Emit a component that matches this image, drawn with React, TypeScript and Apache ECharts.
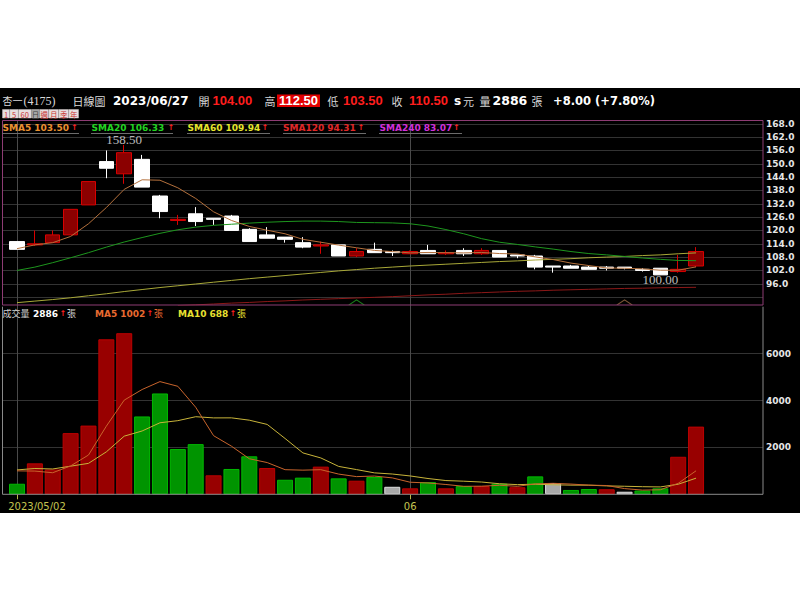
import React, { useEffect, useRef } from "react";
import * as echarts from "echarts";

// ---------------- data ----------------
const dates = [
  "2023/05/02", "2023/05/03", "2023/05/04", "2023/05/05", "2023/05/08", "2023/05/09", "2023/05/10",
  "2023/05/11", "2023/05/12", "2023/05/15", "2023/05/16", "2023/05/17", "2023/05/18", "2023/05/19",
  "2023/05/22", "2023/05/23", "2023/05/24", "2023/05/25", "2023/05/26", "2023/05/29", "2023/05/30",
  "2023/05/31", "2023/06/01", "2023/06/02", "2023/06/05", "2023/06/06", "2023/06/07", "2023/06/08",
  "2023/06/09", "2023/06/12", "2023/06/13", "2023/06/14", "2023/06/15", "2023/06/16", "2023/06/19",
  "2023/06/20", "2023/06/21", "2023/06/26", "2023/06/27",
];
const opens = [115, 113.5, 114.5, 118, 131.5, 151, 145.5, 152, 135.5, 124.5, 127.5, 125.5, 126.5, 120.5, 118, 117, 114.5, 113, 113.5, 108.5, 111.5, 110.5, 109.5, 111, 109.5, 111, 109.5, 111, 109, 108.5, 104, 104, 103.5, 103.5, 103.5, 102.5, 103, 101.5, 104];
const closes = [111.5, 114, 118, 129.5, 142, 148, 155, 139.5, 128.5, 125, 124, 125, 120, 115, 116.5, 116, 112.5, 113.5, 108.5, 110.5, 110, 110, 110.5, 109.5, 110, 109.5, 111, 108, 108.5, 103.5, 103.5, 103, 102.5, 103, 103, 102, 100, 102.5, 110.5];
const lows = [111.5, 113, 114.5, 118, 131.5, 143.5, 141, 139.5, 125.5, 122.5, 122, 122.5, 120, 115, 116.5, 114.5, 112, 109.5, 108.5, 108, 110, 108.5, 109.5, 109.5, 109, 108.5, 109, 108, 107.5, 102.5, 101, 103, 102.5, 102, 102.5, 101.5, 100, 101, 103.5];
const highs = [115, 120, 120, 129.5, 142, 156, 158.5, 154, 136, 127, 130.5, 125.5, 127, 121, 121.5, 117, 117, 115, 113.5, 112, 114.5, 111, 111, 113.5, 111, 112, 112, 111, 109, 109, 104, 104.5, 104, 104, 103.5, 103, 103, 109, 112.5];
const volumes = [450, 1320, 1060, 2610, 2930, 6610, 6870, 3320, 4300, 1930, 2140, 810, 1080, 1620, 1120, 620, 710, 1180, 680, 580, 740, 320, 255, 520, 255, 350, 350, 450, 300, 765, 480, 185, 225, 215, 110, 160, 254, 1600, 2886];
const sma5 = [111.8, 113.5, 114.5, 117.3, 123.0, 130.3, 138.5, 142.8, 142.6, 139.2, 134.4, 128.4, 124.5, 121.8, 120.1, 118.5, 116.0, 114.7, 113.4, 112.2, 111.0, 110.5, 109.9, 110.1, 110.0, 109.9, 110.1, 109.6, 109.4, 108.1, 106.9, 105.3, 104.2, 103.1, 103.0, 102.7, 102.1, 102.1, 103.6];
const sma20 = [102.0, 103.5, 105.5, 107.7, 110.0, 112.5, 114.8, 116.8, 118.7, 120.3, 121.5, 122.3, 122.8, 123.3, 123.7, 124.0, 124.2, 124.2, 124.0, 123.6, 123.5, 123.4, 123.0, 122.0, 120.4, 118.5, 116.3, 114.7, 113.7, 112.6, 111.6, 110.5, 109.6, 109.0, 108.3, 107.6, 107.0, 106.5, 106.4];
const sma60 = [87.5, 88.2, 88.9, 89.7, 90.6, 91.5, 92.5, 93.4, 94.3, 95.1, 95.9, 96.7, 97.5, 98.3, 99.0, 99.7, 100.4, 101.1, 101.8, 102.4, 103.0, 103.5, 104.0, 104.4, 104.8, 105.2, 105.6, 106.0, 106.3, 106.7, 107.0, 107.3, 107.7, 108.0, 108.3, 108.7, 109.0, 109.5, 109.9];
const sma120 = [null, null, null, null, null, null, null, null, null, 86.2, 86.5, 86.9, 87.3, 87.6, 88.0, 88.3, 88.7, 89.0, 89.3, 89.6, 89.9, 90.2, 90.6, 91.0, 91.3, 91.7, 92.0, 92.3, 92.6, 92.8, 93.1, 93.3, 93.5, 93.7, 93.9, 94.0, 94.2, 94.3, 94.4];
const volMa5 = [1000, 990, 920, 1210, 1674, 2906, 4016, 4468, 4806, 4606, 3712, 2500, 2052, 1516, 1354, 1050, 1030, 1050, 862, 754, 778, 700, 515, 483, 418, 340, 346, 385, 341, 443, 469, 436, 391, 374, 243, 179, 193, 468, 1002];
const volMa10 = [1040, 1100, 1080, 1200, 1320, 1810, 2480, 2700, 3050, 3140, 3309, 3258, 3260, 3161, 2980, 2381, 1765, 1551, 1189, 1054, 914, 865, 783, 673, 586, 559, 523, 450, 412, 431, 405, 391, 388, 358, 343, 324, 314, 429, 688];
const firstVolumeTrend = "down";
const peakMark = [6, 158.5];
const troughMark = [36, 100];
const crossSignals = [[19, 87.6], [34, 87.6]];
const priceAxis = { min: 90, max: 168, step: 6, firstLabel: 96 };
const volumeAxis = { min: 0, max: 8000, step: 2000 };

const header = {
  name: "杏一", code: "(4175)", period: "日線圖", date: "2023/06/27",
  open: "104.00", high: "112.50", low: "103.50", close: "110.50",
  volume: "2886", change: "+8.00 (+7.80%)",
};
const smaLegend = [
  { label: "SMA5", value: "103.50" },
  { label: "SMA20", value: "106.33" },
  { label: "SMA60", value: "109.94" },
  { label: "SMA120", value: "94.31" },
  { label: "SMA240", value: "83.07" },
];
const volLegend = { total: "2886", ma5: "1002", ma10: "688" };
const periodButtons = ["1", "5", "60", "日", "週", "月", "季", "年"];

// ---------------- layout / style ----------------
const N_SLOTS = 42;
const BAND = 17.87;
const FIRST_X = 17;
const SER_LEFT = FIRST_X - BAND / 2;
const SER_W = BAND * N_SLOTS;
const PANEL_L = 2.5;
const PANEL_R = 763;
const P_TOP = 120.5;
const P_BOT = 305;
const TICK_TOP = 123.8;
const TICK_BOT = 297.1;
const V_TOP = 306.7;
const V_BOT = 494.3;
const PX_PER_UNIT = (TICK_BOT - TICK_TOP) / (priceAxis.max - priceAxis.min);
const P_MAX = priceAxis.max + (TICK_TOP - P_TOP) / PX_PER_UNIT;
const P_MIN = priceAxis.min - (P_BOT - TICK_BOT) / PX_PER_UNIT;

const CJK = '"Noto Sans CJK TC", "Noto Sans CJK SC", sans-serif';
const DJ = '"DejaVu Sans", sans-serif';

function txt(x: number, y: number, text: string, fill: string, font: string, align = "left") {
  return {
    type: "text", x, y, silent: true, z: 10,
    style: { text, fill, font, align, verticalAlign: "middle" },
  };
}

function buildOption() {
  const cat = Array.from({ length: N_SLOTS }, (_, i) => (i < dates.length ? dates[i] : ""));
  const isMonthStart = (i: number) =>
    i < dates.length && (i === 0 || dates[i].slice(5, 7) !== dates[i - 1].slice(5, 7));

  const candleData = opens.map((o, i) => [o, closes[i], lows[i], highs[i]]);
  const volData = volumes.map((v, i) => {
    let trend = firstVolumeTrend;
    if (i > 0) trend = closes[i] > closes[i - 1] ? "up" : closes[i] < closes[i - 1] ? "down" : "flat";
    const st =
      trend === "up"
        ? { color: "#980000", borderColor: "#bb0000" }
        : trend === "down"
        ? { color: "#009400", borderColor: "#00b800" }
        : { color: "#a8a8a8", borderColor: "#e0e0e0" };
    return { value: v, itemStyle: { ...st, borderWidth: 1 } };
  });

  const legendColors = ["#ea9030", "#22d422", "#e4e42c", "#e02828", "#d030d8"];
  const legendX = [2.5, 91.5, 187.5, 283, 379.5];
  const arrowX = [71, 167.5, 261.5, 357.5, 453];
  const underline = [[2, 79], [91, 173], [187, 270], [283, 366], [379, 462]];

  const graphics: any[] = [
    { type: "rect", z: -100, silent: true, shape: { x: 0, y: 88, width: 800, height: 425 }, style: { fill: "#000" } },
    {
      type: "rect", z: 8, silent: true,
      shape: { x: PANEL_L, y: P_TOP, width: PANEL_R - PANEL_L, height: P_BOT - P_TOP },
      style: { fill: "none", stroke: "#8e3c74", lineWidth: 1 },
    },
    {
      type: "polyline", z: 8, silent: true,
      shape: { points: [[PANEL_L, V_TOP], [PANEL_L, V_BOT], [PANEL_R, V_BOT], [PANEL_R, V_TOP]] },
      style: { fill: "none", stroke: "#8a8a8a", lineWidth: 1 },
    },
  ];

  // header row
  const hy = 100.5;
  const numFont = 'bold 13px "Liberation Sans", sans-serif';
  graphics.push(
    txt(2.5, hy, header.name, "#d8d8d8", "10px " + CJK),
    txt(23.5, hy, header.code, "#d8d8d8", '12px "Liberation Serif", serif'),
    txt(72.5, hy, header.period, "#d8d8d8", "11px " + CJK),
    txt(113, hy, header.date, "#ffffff", "bold 12px " + DJ),
    txt(198.5, hy, "開", "#d8d8d8", "11px " + CJK),
    txt(212.5, hy, header.open, "#ff1e1e", numFont),
    txt(264.5, hy, "高", "#d8d8d8", "11px " + CJK),
    { type: "rect", z: 9, silent: true, shape: { x: 277, y: 94.5, width: 43, height: 12.5 }, style: { fill: "#e00000" } },
    txt(279, hy, header.high, "#ffffff", numFont),
    txt(327.5, hy, "低", "#d8d8d8", "11px " + CJK),
    txt(343, hy, header.low, "#ff1e1e", numFont),
    txt(391.5, hy, "收", "#d8d8d8", "11px " + CJK),
    txt(409, hy, header.close, "#ff1e1e", numFont),
    txt(454, hy, "s", "#ffffff", "bold 12px " + DJ),
    txt(463, hy, "元", "#d8d8d8", "11px " + CJK),
    txt(479.5, hy, "量", "#d8d8d8", "11px " + CJK),
    txt(492.5, hy, header.volume, "#ffffff", "bold 12.5px " + DJ),
    txt(531.5, hy, "張", "#d8d8d8", "11px " + CJK),
    txt(553, hy, header.change, "#ffffff", "bold 11.5px " + DJ)
  );

  // period buttons
  const btnX = [2.5, 10, 18.5, 31.5, 40, 49, 59, 69];
  const btnW = [7, 8, 12.5, 8, 8.5, 9.5, 9.5, 9.5];
  periodButtons.forEach((b, i) => {
    const sel = b === "日";
    graphics.push({
      type: "rect", z: 9, silent: true,
      shape: { x: btnX[i], y: 109.5, width: btnW[i], height: 8.5 },
      style: { fill: sel ? "#a4a4a4" : "#e6dede", stroke: "#c8c0c0", lineWidth: 0.5 },
    });
    graphics.push(txt(btnX[i] + btnW[i] / 2, 114, b, sel ? "#404040" : "#c83232", "7.5px " + CJK, "center"));
  });

  // SMA legend
  smaLegend.forEach((l, i) => {
    graphics.push(txt(legendX[i], 127.5, `${l.label} ${l.value}`, legendColors[i], "bold 9px " + DJ));
    graphics.push(txt(arrowX[i], 127.5, "↑", "#ff2020", "bold 8px " + DJ));
    graphics.push({
      type: "line", z: 9, silent: true,
      shape: { x1: underline[i][0], y1: 133.5, x2: underline[i][1], y2: 133.5 },
      style: { stroke: "#6c6c6c", lineWidth: 1 },
    });
  });

  // volume legend
  const vy = 313.5;
  graphics.push(
    txt(2.5, vy, "成交量", "#d0d0d0", "9px " + CJK),
    txt(33, vy, volLegend.total, "#ffffff", "bold 9px " + DJ),
    txt(59.5, vy, "↑", "#ff2020", "bold 8px " + DJ),
    txt(67, vy, "張", "#d0d0d0", "9px " + CJK),
    txt(95, vy, `MA5 ${volLegend.ma5}`, "#e86a30", "bold 9px " + DJ),
    txt(146.5, vy, "↑", "#ff2020", "bold 8px " + DJ),
    txt(154, vy, "張", "#e86a30", "9px " + CJK),
    txt(178, vy, `MA10 ${volLegend.ma10}`, "#e8e030", "bold 9px " + DJ),
    txt(229.5, vy, "↑", "#ff2020", "bold 8px " + DJ),
    txt(237, vy, "張", "#e8e030", "9px " + CJK)
  );

  const lineSeries = (name: string, data: any[], color: string, xi: number, yi: number) => ({
    name, type: "line", xAxisIndex: xi, yAxisIndex: yi, data, symbol: "none", silent: true,
    lineStyle: { color, width: 1 }, z: 4, connectNulls: false,
  });

  return {
    animation: false,
    backgroundColor: "#ffffff",
    graphic: graphics,
    grid: [
      { left: SER_LEFT, top: P_TOP, width: SER_W, height: P_BOT - P_TOP },
      { left: PANEL_L, top: TICK_TOP, width: PANEL_R - PANEL_L, height: TICK_BOT - TICK_TOP },
      { left: SER_LEFT, top: V_TOP, width: SER_W, height: V_BOT - V_TOP },
      { left: PANEL_L, top: V_TOP, width: PANEL_R - PANEL_L, height: V_BOT - V_TOP },
      { left: FIRST_X, top: P_TOP, width: BAND * (N_SLOTS - 1), height: V_BOT - P_TOP },
    ],
    xAxis: [
      { gridIndex: 0, type: "category", data: cat, show: false, boundaryGap: true },
      { gridIndex: 1, type: "value", show: false, min: 0, max: 1 },
      { gridIndex: 2, type: "category", data: cat, show: false, boundaryGap: true },
      { gridIndex: 3, type: "value", show: false, min: 0, max: 1 },
      {
        gridIndex: 4, type: "category", data: cat, boundaryGap: false,
        axisLine: { show: false },
        axisTick: { show: true, length: 5, interval: (i: number) => isMonthStart(i), lineStyle: { color: "#b8b848" } },
        axisLabel: {
          interval: (i: number) => isMonthStart(i),
          margin: 7,
          color: "#c4c450",
          fontSize: 10,
          fontFamily: "DejaVu Sans",
          formatter: (v: string, i: number) => (i === 0 ? `{a|${v}}` : v.slice(5, 7)),
          rich: { a: { padding: [0, 0, 0, 40], color: "#c4c450", fontSize: 10, fontFamily: "DejaVu Sans" } },
        },
        splitLine: { show: true, interval: (i: number) => isMonthStart(i), lineStyle: { color: "#4a4a4a", width: 1 } },
      },
    ],
    yAxis: [
      { gridIndex: 0, type: "value", min: P_MIN, max: P_MAX, show: false },
      {
        gridIndex: 1, type: "value", min: priceAxis.min, max: priceAxis.max, interval: priceAxis.step,
        position: "right",
        axisLine: { show: false }, axisTick: { show: false },
        axisLabel: {
          margin: 3, color: "#e6e6e6", fontSize: 9, fontWeight: "bold", fontFamily: "DejaVu Sans",
          formatter: (v: number) => (v < priceAxis.firstLabel ? "" : v.toFixed(1)),
        },
        splitLine: { show: true, lineStyle: { color: "#333333", width: 1 } },
      },
      { gridIndex: 2, type: "value", min: volumeAxis.min, max: volumeAxis.max, show: false },
      {
        gridIndex: 3, type: "value", min: volumeAxis.min, max: volumeAxis.max, interval: volumeAxis.step,
        position: "right",
        axisLine: { show: false }, axisTick: { show: false },
        axisLabel: {
          margin: 3, color: "#e6e6e6", fontSize: 9, fontWeight: "bold", fontFamily: "DejaVu Sans",
          formatter: (v: number) => (v === volumeAxis.min || v === volumeAxis.max ? "" : String(v)),
        },
        splitLine: { show: true, showMinLine: false, showMaxLine: false, lineStyle: { color: "#333333", width: 1 } },
      },
      { gridIndex: 4, type: "value", min: 0, max: 1, show: false },
    ],
    series: [
      {
        type: "candlestick", xAxisIndex: 0, yAxisIndex: 0, data: candleData, barWidth: 15, silent: true, z: 3,
        itemStyle: { color: "#8b0000", color0: "#ffffff", borderColor: "#d80000", borderColor0: "#ffffff", borderWidth: 1 },
      },
      lineSeries("SMA120", sma120, "#8c1818", 0, 0),
      lineSeries("SMA60", sma60, "#a8a838", 0, 0),
      lineSeries("SMA20", sma20, "#1e961e", 0, 0),
      lineSeries("SMA5", sma5, "#b4703c", 0, 0),
      {
        type: "scatter", xAxisIndex: 0, yAxisIndex: 0, silent: true, z: 6,
        symbol: "path://M0,10 L10,0 L20,10", symbolSize: [15, 5],
        itemStyle: { color: "rgba(0,0,0,0)", borderWidth: 1 },
        data: [
          { value: crossSignals[0], itemStyle: { borderColor: "#1f9a1f", color: "rgba(0,0,0,0)" } },
          { value: crossSignals[1], itemStyle: { borderColor: "#9a6a44", color: "rgba(0,0,0,0)" } },
        ],
      },
      {
        type: "scatter", xAxisIndex: 0, yAxisIndex: 0, silent: true, z: 7, symbolSize: 1,
        itemStyle: { color: "rgba(0,0,0,0)" },
        label: {
          show: true, color: "#e8e8e8", fontFamily: "Liberation Serif", fontSize: 13, distance: 0,
          formatter: (p: any) => Number(p.value[1]).toFixed(2),
        },
        data: [
          { value: peakMark, label: { position: "top", offset: [0, 2] } },
          { value: troughMark, label: { position: "bottom", offset: [0, -2] } },
        ],
      },
      { type: "bar", xAxisIndex: 2, yAxisIndex: 2, data: volData, barWidth: 16, silent: true, z: 3 },
      lineSeries("VMA10", volMa10, "#c8b43a", 2, 2),
      lineSeries("VMA5", volMa5, "#c8642c", 2, 2),
    ],
  };
}

export default function App() {
  const ref = useRef<HTMLDivElement>(null);
  useEffect(() => {
    if (!ref.current) return;
    const chart = echarts.init(ref.current, undefined, { renderer: "svg" });
    chart.setOption(buildOption() as any);
    return () => chart.dispose();
  }, []);
  return (
    <div
      ref={ref}
      style={{ position: "fixed", left: 0, top: 0, width: 800, height: 600, background: "#fff" }}
    />
  );
}
